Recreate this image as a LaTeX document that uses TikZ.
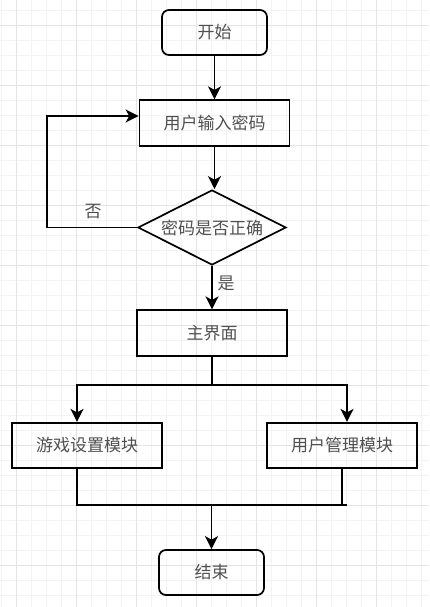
\documentclass[tikz,border=0pt]{standalone}
\usepackage{fontspec}
\newfontfamily\cjk{Noto Sans CJK SC}
\usetikzlibrary{arrows.meta, shapes.geometric}
\definecolor{gridminor}{HTML}{F3F3F3}
\definecolor{gridmajor}{HTML}{E4E4E4}
\definecolor{txtgrey}{HTML}{505050}

\begin{document}
\begin{tikzpicture}[
    x=1pt, y=-1pt,
    box/.style={draw, line width=1.7pt, minimum width=150pt, minimum height=45.5pt,
                inner sep=0pt, font=\cjk\fontsize{17}{20}\selectfont, text=txtgrey},
    term/.style={box, rounded corners=7pt, minimum width=105pt, minimum height=45pt},
    decide/.style={box, diamond, aspect=2, minimum width=148pt, minimum height=75pt},
    lbl/.style={font=\cjk\fontsize{17}{20}\selectfont, text=txtgrey, inner sep=0pt},
    link/.style={line width=1.7pt},
    flow/.style={link, -{Stealth[length=13pt, width=13pt, inset=3.5pt]}}
]

% 1. Page and grid
\useasboundingbox (0,0) rectangle (429,607);
\fill[white] (0,0) rectangle (429,607);
\foreach \gx in {1.7,16.7,...,430} {
    \draw[gridminor, line width=0.8pt] (\gx,0) -- (\gx,607);
}
\foreach \gy in {10,25,...,607} {
    \draw[gridminor, line width=0.8pt] (0,\gy) -- (429,\gy);
}
\foreach \gx in {16.7,76.7,...,430} {
    \draw[gridmajor, line width=0.8pt] (\gx,0) -- (\gx,607);
}
\foreach \gy in {25,85,...,607} {
    \draw[gridmajor, line width=0.8pt] (0,\gy) -- (429,\gy);
}

% 2. Steps
\node[term] (start) at (214.5,32.5) {开始};
\node[box] (input) at (214.5,123) {用户输入密码};
\node[decide] (check) at (212,227.5) {密码是否正确};
\node[box] (menu) at (212,333) {主界面};
\node[box] (game) at (87,445.5) {游戏设置模块};
\node[box] (usermgr) at (342,445.5) {用户管理模块};
\node[term] (finish) at (211.5,572.5) {结束};

% 3. Labels
\node[lbl] (no) at (93,212) {否};
\node[lbl] (yes) at (226,283) {是};

% 4. Helper points
\coordinate (back) at (46.7,116);
\coordinate (fork) at (212,385);
\coordinate (joinL) at (77,505);
\coordinate (joinR) at (347,505);

% 5. Connectors
\draw[flow] (start) -- (input);
\draw[flow] (input) -- (input |- check.north);
\draw[flow] (check.west) -| (back) -- (input.west |- back);
\draw[flow] (check) -- (menu);
\draw[link] (menu) -- (fork);
\draw[flow] (fork) -| ([xshift=-10pt]game.north);
\draw[flow] (fork) -| ([xshift=5pt]usermgr.north);
\draw[link] (game.south -| joinL) -- (joinL) -- (joinR);
\draw[link] (usermgr.south) -- (usermgr.south |- joinR);
\draw[flow] (finish.north |- joinL) -- (finish);

\end{tikzpicture}
\end{document}
